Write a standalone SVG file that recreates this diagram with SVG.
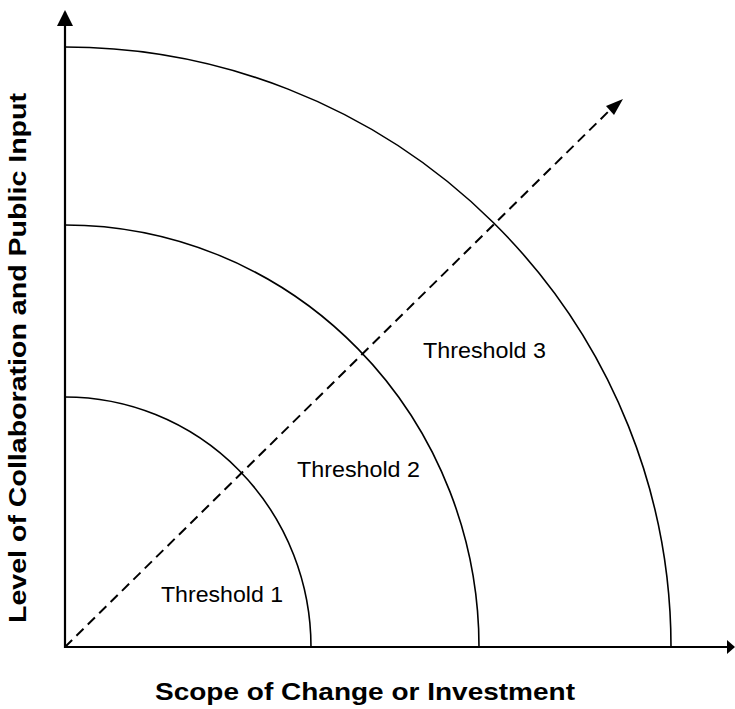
<svg xmlns="http://www.w3.org/2000/svg" width="735" height="709" viewBox="0 0 735 709">
<style>
.axis{stroke:#000;stroke-width:2.2;fill:none}
.arc{stroke:#000;stroke-width:1.6;fill:none}
.dash{stroke:#000;stroke-width:2;fill:none;stroke-dasharray:10,6}
.lbl{font-family:"Liberation Sans",Arial,sans-serif;font-size:22px;fill:#000}
.title{font-family:"Liberation Sans",Arial,sans-serif;font-size:24px;font-weight:bold;fill:#000}
</style>
<g id="connectors">
<line class="axis" x1="65" y1="648" x2="65" y2="12"/>
<path d="M57,26 L65,10 L73,26 z" fill="#000"/>
<line class="axis" x1="64" y1="647" x2="728" y2="647"/>
<path d="M727,640 L735,647 L727,654 z" fill="#000"/>
<path id="diag" class="dash" d="M65,647 L614,106"/>
<path d="M623,99 L606,106 L614,115 z" fill="#000"/>
</g>
<g id="threshold1">
<path class="arc" d="M65,397 A246,250 0 0 1 311,647"/>
<text class="lbl" x="161" y="602" textLength="122" lengthAdjust="spacingAndGlyphs">Threshold 1</text>
</g>
<g id="threshold2">
<path class="arc" d="M65,225 A414,422 0 0 1 479,647"/>
<text class="lbl" x="297" y="477" textLength="123" lengthAdjust="spacingAndGlyphs">Threshold 2</text>
</g>
<g id="threshold3">
<path class="arc" d="M65,47 A606,600 0 0 1 671,647"/>
<text class="lbl" x="423" y="358" textLength="123" lengthAdjust="spacingAndGlyphs">Threshold 3</text>
</g>
<g id="xlabel">
<text class="title" x="365" y="700" text-anchor="middle" textLength="420" lengthAdjust="spacingAndGlyphs">Scope of Change or Investment</text>
</g>
<g id="ylabel">
<text class="title" transform="translate(26,358) rotate(-90)" text-anchor="middle" textLength="530" lengthAdjust="spacingAndGlyphs">Level of Collaboration and Public Input</text>
</g>
</svg>
